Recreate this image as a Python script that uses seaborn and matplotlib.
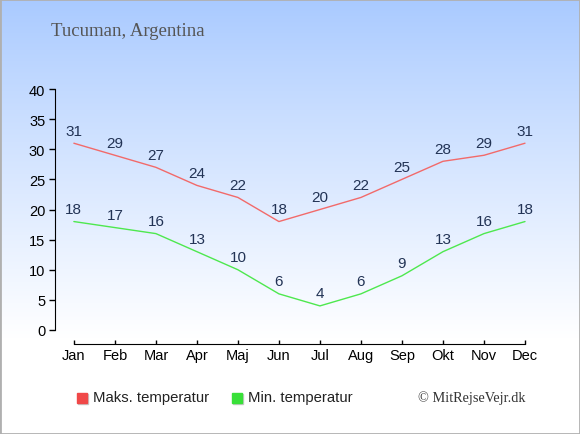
import numpy as np
import pandas as pd
import matplotlib
matplotlib.use("Agg")
import matplotlib.pyplot as plt
import seaborn as sns
from matplotlib.patches import Rectangle

# data
months = ["Jan", "Feb", "Mar", "Apr", "Maj", "Jun", "Jul", "Aug", "Sep", "Okt", "Nov", "Dec"]
max_temp = [31, 29, 27, 24, 22, 18, 20, 22, 25, 28, 29, 31]
min_temp = [18, 17, 16, 13, 10, 6, 4, 6, 9, 13, 16, 18]
yticks = [0, 5, 10, 15, 20, 25, 30, 35, 40]

red = "#f26a6a"
green = "#4ee84e"
label_col = "#223355"

sns.set_style("white")
plt.rcParams['font.family'] = ['Liberation Sans', 'DejaVu Sans']

W, H = 580, 435
fig = plt.figure(figsize=(W / 100, H / 100), dpi=100)

# baggrund med gradient
bg = fig.add_axes([0, 0, 1, 1])
grad = np.linspace(0, 1, 256)[:, None]
top = np.array([0.66, 0.79, 1.0])
white = np.array([1.0, 1.0, 1.0])
t = np.clip(grad / 0.78, 0, 1) ** 0.9
img = top[None, None, :] * (1 - t[:, :, None]) + white[None, None, :] * t[:, :, None]
bg.imshow(img, aspect="auto", extent=[0, 1, 0, 1], origin="upper")
bg.set_axis_off()
bg.add_patch(Rectangle((0, 0), 1, 1, transform=bg.transAxes, fill=False,
                       edgecolor="#b0b0b0", linewidth=2))

# plot-område i pixels
x0, x1 = 55, 540
y_top, y_bot = 90, 331
ax = fig.add_axes([x0 / W, 1 - y_bot / H, (x1 - x0) / W, (y_bot - y_top) / H])
ax.patch.set_alpha(0)

df = pd.DataFrame({"m": np.arange(12), "max": max_temp, "min": min_temp})
sns.lineplot(data=df, x="m", y="max", color=red, linewidth=1, ax=ax)
sns.lineplot(data=df, x="m", y="min", color=green, linewidth=1, ax=ax)

for i in range(12):
    ax.annotate(str(max_temp[i]), (i, max_temp[i]), xytext=(0, 4), textcoords="offset points",
                ha="center", va="bottom", fontsize=11, color=label_col, annotation_clip=False)
    ax.annotate(str(min_temp[i]), (i, min_temp[i]), xytext=(0, 4), textcoords="offset points",
                ha="center", va="bottom", fontsize=11, color=label_col, annotation_clip=False)

ax.set_xlim(-0.46, (x1 - 74) / 41)
ax.set_ylim(0, 40)
ax.set_xticks(range(12))
ax.set_xticklabels(months)
ax.set_yticks(yticks)
ax.set_xlabel("")
ax.set_ylabel("")
for s in ["top", "right"]:
    ax.spines[s].set_visible(False)
ax.spines["left"].set_color("black")
ax.spines["bottom"].set_color("black")
ax.spines["left"].set_bounds(0, 40)
ax.spines["bottom"].set_bounds(0, 11)
ax.spines["bottom"].set_position(("outward", 10))
ax.tick_params(axis="y", left=True, direction="out", length=4, width=1, colors="black",
               labelsize=10.5, pad=3)
ax.tick_params(axis="x", bottom=True, direction="in", length=3, width=1, colors="black",
               labelsize=10.5, pad=3)

# titel
fig.text(51 / W, 1 - 31 / H, "Tucuman, Argentina", family=["Liberation Serif", "DejaVu Serif"],
         fontsize=13.5, color="#555555", va="center", ha="left")

# forklaring
def legend_box(x, color, text):
    fig.patches.append(Rectangle(((x + 1) / W, 1 - 405 / H), 10 / W, 10 / H,
                                 transform=fig.transFigure, color="#c8c8c8", zorder=3))
    fig.patches.append(Rectangle((x / W, 1 - 404 / H), 10 / W, 10 / H,
                                 transform=fig.transFigure, color=color, zorder=4))
    fig.text((x + 16) / W, 1 - 398.5 / H, text, fontsize=10.7, color="#222222",
             va="center", ha="left")

legend_box(77, "#f04848", "Maks. temperatur")
legend_box(232, "#38e038", "Min. temperatur")

fig.text(526 / W, 1 - 398 / H, "© MitRejseVejr.dk", family=["Liberation Serif", "DejaVu Serif"],
         fontsize=10.3, color="#333333", va="center", ha="right")

fig.savefig("out.png", dpi=100)
